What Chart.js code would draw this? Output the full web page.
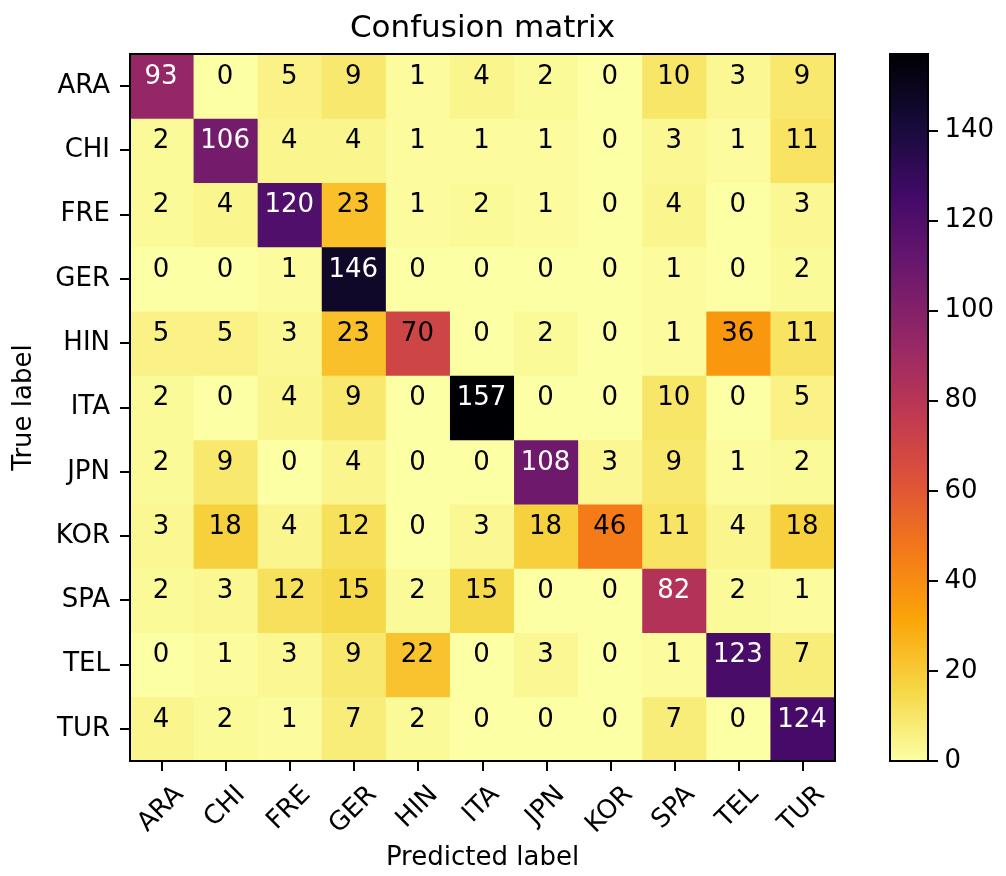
<!DOCTYPE html>
<html>
<head>
<meta charset="utf-8">
<title>Confusion matrix</title>
<script src="https://cdn.jsdelivr.net/npm/chart.js@4.4.1/dist/chart.umd.min.js"></script>
<style>
  html, body { margin: 0; padding: 0; background: #fff; }
  #wrap { position: relative; width: 1006px; height: 876px; }
  #matrix { position: absolute; left: 0; top: 0; }
  #colorbar { position: absolute; left: 870px; top: 0; }
</style>
</head>
<body>
<div id="wrap">
  <canvas id="matrix" width="870" height="876"></canvas>
  <canvas id="colorbar" width="136" height="876"></canvas>
</div>
<script>
// Class names, used for both the true (rows) and predicted (columns) axes
const classLabels = ['ARA', 'CHI', 'FRE', 'GER', 'HIN', 'ITA', 'JPN', 'KOR', 'SPA', 'TEL', 'TUR'];

// Counts for each true label, one entry per predicted label
const trueARA = [93, 0, 5, 9, 1, 4, 2, 0, 10, 3, 9];
const trueCHI = [2, 106, 4, 4, 1, 1, 1, 0, 3, 1, 11];
const trueFRE = [2, 4, 120, 23, 1, 2, 1, 0, 4, 0, 3];
const trueGER = [0, 0, 1, 146, 0, 0, 0, 0, 1, 0, 2];
const trueHIN = [5, 5, 3, 23, 70, 0, 2, 0, 1, 36, 11];
const trueITA = [2, 0, 4, 9, 0, 157, 0, 0, 10, 0, 5];
const trueJPN = [2, 9, 0, 4, 0, 0, 108, 3, 9, 1, 2];
const trueKOR = [3, 18, 4, 12, 0, 3, 18, 46, 11, 4, 18];
const trueSPA = [2, 3, 12, 15, 2, 15, 0, 0, 82, 2, 1];
const trueTEL = [0, 1, 3, 9, 22, 0, 3, 0, 1, 123, 7];
const trueTUR = [4, 2, 1, 7, 2, 0, 0, 0, 7, 0, 124];

const rows = [trueARA, trueCHI, trueFRE, trueGER, trueHIN, trueITA,
              trueJPN, trueKOR, trueSPA, trueTEL, trueTUR];

// Colorbar tick values
const colorbarTicks = [0, 20, 40, 60, 80, 100, 120, 140];

// Inferno colormap anchor colours (t = 0, 0.1, ..., 1)
const infernoStops = ['#000004', '#160b39', '#420a68', '#6a176e', '#932667', '#bc3754',
                      '#dd513a', '#f37819', '#fca50a', '#f6d746', '#fcffa4'];

function hexToRgb(h) {
  return [parseInt(h.slice(1, 3), 16), parseInt(h.slice(3, 5), 16), parseInt(h.slice(5, 7), 16)];
}
const infernoRgb = infernoStops.map(hexToRgb);

function inferno(t) {
  t = Math.min(1, Math.max(0, t));
  const pos = t * (infernoRgb.length - 1);
  const i = Math.min(infernoRgb.length - 2, Math.floor(pos));
  const f = pos - i;
  const a = infernoRgb[i], b = infernoRgb[i + 1];
  const c = a.map((v, k) => Math.round(v + (b[k] - v) * f));
  return `rgb(${c[0]}, ${c[1]}, ${c[2]})`;
}

const vmax = Math.max(...rows.flat());
const thresh = vmax / 2;
// Reversed inferno: low counts pale yellow, high counts near black
const cellColor = v => inferno(1 - v / vmax);

const FONT = "'DejaVu Sans', sans-serif";
Chart.defaults.font.family = FONT;
Chart.defaults.font.size = 26;
Chart.defaults.color = '#000';

// One dataset per true-label row; each bar spans one cell of the row
const datasets = rows.map((row, r) => ({
  label: classLabels[r],
  data: row.map(() => [r - 0.5, r + 0.5]),
  backgroundColor: row.map(cellColor),
  borderWidth: 0,
  barPercentage: 1,
  categoryPercentage: 1,
  grouped: false,
  inflateAmount: 0.5
}));

// Count written in every cell, plus the frame around the plot area
const cellText = {
  id: 'cellText',
  afterDatasetsDraw(chart) {
    const ctx = chart.ctx;
    ctx.save();
    ctx.font = `26px ${FONT}`;
    ctx.textAlign = 'center';
    ctx.textBaseline = 'middle';
    rows.forEach((row, r) => {
      const meta = chart.getDatasetMeta(r);
      row.forEach((v, c) => {
        const p = meta.data[c].getCenterPoint();
        ctx.fillStyle = v > thresh ? '#fff' : '#000';
        ctx.fillText(String(v), p.x - 1, p.y - 9);
      });
    });
    const a = chart.chartArea;
    ctx.lineWidth = 2;
    ctx.strokeStyle = '#000';
    ctx.strokeRect(a.left, a.top, a.right - a.left, a.bottom - a.top);
    ctx.restore();
  }
};

// Predicted-label tick labels, rotated 45 degrees and centred under each tick
const rotatedXLabels = {
  id: 'rotatedXLabels',
  afterDraw(chart) {
    const xs = chart.scales.x;
    const ctx = chart.ctx;
    ctx.save();
    ctx.font = `26px ${FONT}`;
    ctx.fillStyle = '#000';
    ctx.textAlign = 'center';
    ctx.textBaseline = 'middle';
    const top = xs.top + 10 + 9;
    classLabels.forEach((lab, i) => {
      const x = xs.getPixelForTick(i);
      const w = ctx.measureText(lab).width;
      const half = (w + 30) * Math.SQRT1_2 / 2;
      ctx.save();
      ctx.translate(x - 1, top + half);
      ctx.rotate(-Math.PI / 4);
      ctx.fillText(lab, 0, 0);
      ctx.restore();
    });
    ctx.restore();
  }
};

const tickGrid = { drawOnChartArea: false, offset: false, color: '#000', lineWidth: 2, tickLength: 10 };

new Chart(document.getElementById('matrix'), {
  type: 'bar',
  data: { labels: classLabels, datasets },
  options: {
    responsive: false,
    animation: false,
    devicePixelRatio: 1,
    layout: { padding: { left: 0, right: 35, top: 0, bottom: 0 } },
    plugins: {
      legend: { display: false },
      tooltip: { enabled: false },
      title: {
        display: true,
        text: 'Confusion matrix',
        fullSize: false,
        color: '#000',
        font: { size: 31, weight: 'normal', lineHeight: 1.2 },
        padding: { top: 10, bottom: 6.8 }
      }
    },
    scales: {
      x: {
        type: 'category',
        offset: true,
        grid: tickGrid,
        border: { display: false },
        ticks: { display: false },
        title: { display: true, text: 'Predicted label', color: '#000', font: { size: 26 }, padding: { top: 0, bottom: 2 } },
        afterFit(s) { s.height = 115; }
      },
      y: {
        type: 'linear',
        reverse: true,
        min: -0.5,
        max: 10.5,
        afterBuildTicks(s) { s.ticks = classLabels.map((_, i) => ({ value: i })); },
        ticks: { callback: v => classLabels[v], autoSkip: false, padding: 10, color: '#000', font: { size: 26 } },
        grid: tickGrid,
        border: { display: false },
        title: { display: true, text: 'True label', color: '#000', font: { size: 26 }, padding: { top: 9, bottom: 0 } },
        afterFit(s) { s.width = 130; }
      }
    }
  },
  plugins: [cellText, rotatedXLabels]
});

// Colorbar: a single floating bar from 0 to the maximum count, filled with the colormap
function colorbarFill(context) {
  const chart = context.chart;
  const area = chart.chartArea;
  if (!area) return null;
  const g = chart.ctx.createLinearGradient(0, area.bottom, 0, area.top);
  infernoStops.forEach((_, i) => {
    const t = i / (infernoStops.length - 1);
    g.addColorStop(t, inferno(1 - t));
  });
  return g;
}

const colorbarFrame = {
  id: 'colorbarFrame',
  afterDatasetsDraw(chart) {
    const a = chart.chartArea;
    const ctx = chart.ctx;
    ctx.save();
    ctx.lineWidth = 2;
    ctx.strokeStyle = '#000';
    ctx.strokeRect(a.left, a.top, a.right - a.left, a.bottom - a.top);
    ctx.restore();
  }
};

new Chart(document.getElementById('colorbar'), {
  type: 'bar',
  data: {
    labels: [''],
    datasets: [{
      data: [[0, vmax]],
      backgroundColor: colorbarFill,
      borderWidth: 0,
      barPercentage: 1,
      categoryPercentage: 1,
      inflateAmount: 0
    }]
  },
  options: {
    responsive: false,
    animation: false,
    devicePixelRatio: 1,
    layout: { padding: { left: 20, right: 0, top: 54, bottom: 115 } },
    plugins: { legend: { display: false }, tooltip: { enabled: false } },
    scales: {
      x: { display: false },
      y: {
        position: 'right',
        min: 0,
        max: vmax,
        afterBuildTicks(s) { s.ticks = colorbarTicks.map(v => ({ value: v })); },
        ticks: { padding: 6.5, color: '#000', font: { size: 26 } },
        grid: { drawOnChartArea: false, color: '#000', lineWidth: 2, tickLength: 10 },
        border: { display: false },
        afterFit(s) { s.width = 78; }
      }
    }
  },
  plugins: [colorbarFrame]
});
</script>
</body>
</html>
